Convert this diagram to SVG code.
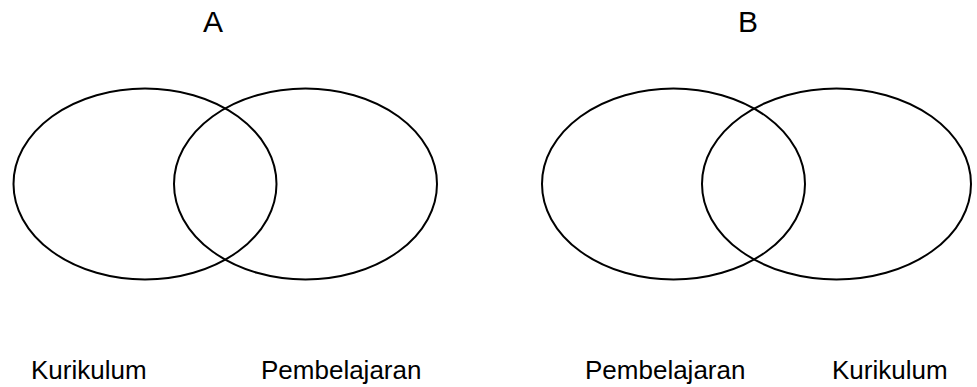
<svg xmlns="http://www.w3.org/2000/svg" width="977" height="387" viewBox="0 0 977 387">
<style>
.set{fill:none;stroke:#000;stroke-width:2}
.t{font-family:"Liberation Sans",Arial,sans-serif;fill:#000}
.title{font-size:30px;text-anchor:middle}
.lbl{font-size:26px}
</style>
<rect width="977" height="387" fill="#fff"/>
<g id="diagram-A">
<text id="title-A" class="t title" x="213" y="32">A</text>
<g id="A-kurikulum"><ellipse class="set" cx="145" cy="184" rx="131.5" ry="95.5"/><text class="t lbl" x="31" y="379">Kurikulum</text></g>
<g id="A-pembelajaran"><ellipse class="set" cx="305.5" cy="184" rx="131.5" ry="95.5"/><text class="t lbl" x="261" y="379">Pembelajaran</text></g>
</g>
<g id="diagram-B">
<text id="title-B" class="t title" x="748" y="32">B</text>
<g id="B-pembelajaran"><ellipse class="set" cx="673.5" cy="184" rx="131.5" ry="95.5"/><text class="t lbl" x="585" y="379">Pembelajaran</text></g>
<g id="B-kurikulum"><ellipse class="set" cx="836.5" cy="184" rx="134.5" ry="95.5"/><text class="t lbl" x="832" y="379">Kurikulum</text></g>
</g>
<g id="connectors"/>
</svg>
